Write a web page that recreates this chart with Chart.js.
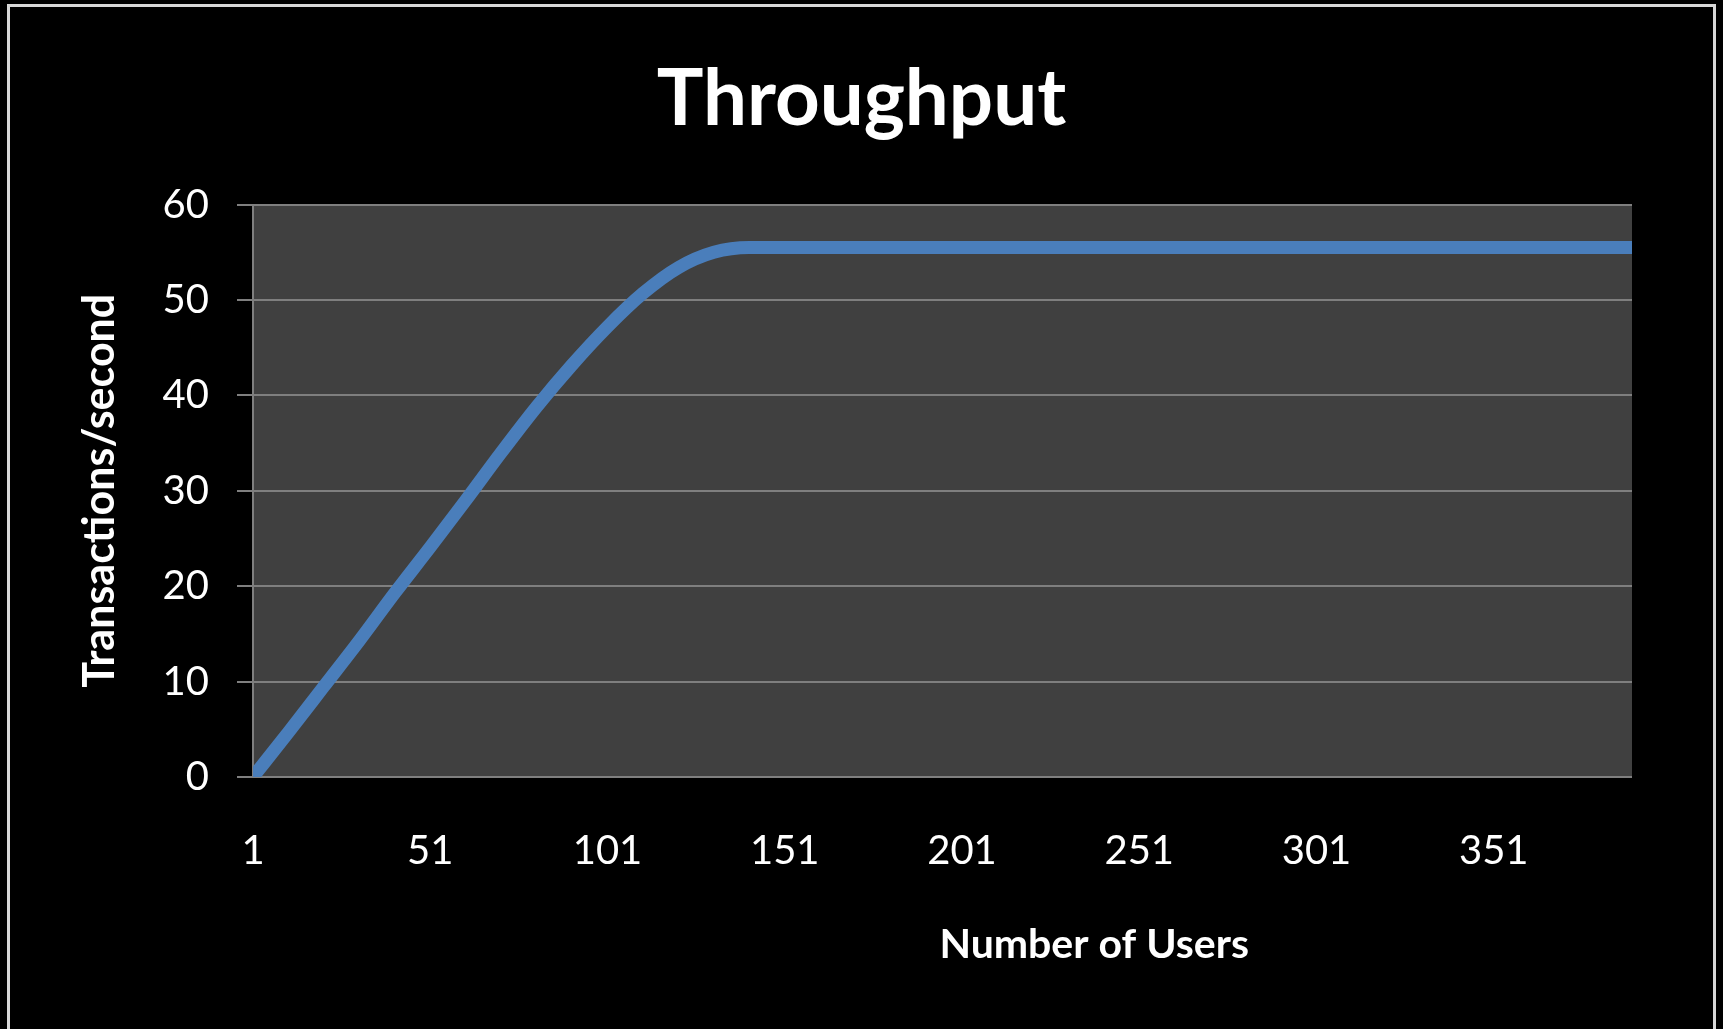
<!DOCTYPE html>
<html>
<head>
<meta charset="utf-8">
<script src="https://cdn.jsdelivr.net/npm/chart.js@4.4.1/dist/chart.umd.min.js"></script>
<style>
  html, body { margin: 0; padding: 0; background: #000; overflow: hidden; width: 1723px; height: 1029px; }
  #frame { position: absolute; left: 7px; top: 4px; width: 1703px; height: 1100px; border: 3px solid #d8d8d8; pointer-events: none; z-index: 2; }
  canvas { position: absolute; left: 0; top: 0; }
</style>
</head>
<body>
<div id="frame"></div>
<canvas id="c" width="1723" height="1029"></canvas>
<script>
// ---- data ----
const chartTitle = "Throughput";
const xAxisTitle = "Number of Users";
const yAxisTitle = "Transactions/second";
const users = [1, 11, 21, 31, 41, 51, 61, 71, 81, 91, 101, 111, 121, 131, 141, 151, 201, 251, 301, 351, 390];
const tps   = [0, 4.7, 9.5, 14.3, 19.3, 24.1, 29.0, 34.0, 38.8, 43.2, 47.2, 50.7, 53.4, 55.0, 55.5, 55.5, 55.5, 55.5, 55.5, 55.5, 55.5];
const xTickValues = [1, 51, 101, 151, 201, 251, 301, 351];
const yTickValues = [0, 10, 20, 30, 40, 50, 60];

const FONT = "Lato, 'Open Sans', 'DejaVu Sans', sans-serif";

const plotBg = {
  id: 'plotBg',
  beforeDraw(chart) {
    const {ctx, chartArea: a} = chart;
    ctx.save();
    ctx.fillStyle = '#404040';
    ctx.fillRect(a.left, a.top, a.right - a.left, a.bottom - a.top);
    ctx.restore();
  }
};

const xTitlePlugin = {
  id: 'xTitle',
  afterDraw(chart) {
    const {ctx, chartArea: a} = chart;
    ctx.save();
    ctx.font = "bold 41px " + FONT;
    ctx.fillStyle = '#ffffff';
    ctx.textAlign = 'center';
    ctx.textBaseline = 'middle';
    ctx.fillText(xAxisTitle, a.left + (a.right - a.left) * 0.61, a.bottom + 168);
    ctx.restore();
  }
};

new Chart(document.getElementById('c'), {
  type: 'line',
  data: {
    datasets: [{
      label: 'Throughput',
      data: users.map((u, i) => ({x: u, y: tps[i]})),
      borderColor: '#4a7ebb',
      borderWidth: 13,
      borderCapStyle: 'round',
      borderJoinStyle: 'round',
      pointRadius: 0,
      cubicInterpolationMode: 'monotone',
      fill: false
    }]
  },
  options: {
    responsive: false,
    animation: false,
    devicePixelRatio: 1,
    layout: { padding: 0 },
    plugins: {
      legend: { display: false },
      tooltip: { enabled: false },
      title: {
        display: true,
        text: chartTitle,
        color: '#ffffff',
        font: { family: FONT, size: 78, weight: 'bold', lineHeight: 1.2 },
        padding: { top: 53, bottom: 58 }
      }
    },
    scales: {
      x: {
        type: 'linear',
        min: 1,
        max: 390,
        afterBuildTicks(scale) { scale.ticks = xTickValues.map(v => ({value: v})); },
        afterFit(scale) { scale.height = 252; },
        grid: { display: false, drawTicks: false },
        border: { display: false },
        ticks: {
          color: '#ffffff',
          font: { family: FONT, size: 40 },
          padding: 50,
          maxRotation: 0,
          autoSkip: false
        }
      },
      y: {
        min: 0,
        max: 60,
        afterBuildTicks(scale) { scale.ticks = yTickValues.map(v => ({value: v})); },
        afterFit(scale) { scale.width = 253; },
        grid: { color: '#7f7f7f', lineWidth: 2, drawTicks: true, tickLength: 16, tickColor: '#7f7f7f' },
        border: { display: true, color: '#7f7f7f', width: 2 },
        ticks: {
          color: '#ffffff',
          font: { family: FONT, size: 40 },
          padding: 28
        },
        title: {
          display: true,
          text: yAxisTitle,
          color: '#ffffff',
          font: { family: FONT, size: 43, weight: 'bold', lineHeight: 1.2 },
          padding: { top: 74, bottom: 0 }
        }
      },
      yRightSpace: {
        position: 'right',
        min: 0,
        max: 60,
        afterFit(scale) { scale.width = 91; },
        grid: { display: false, drawTicks: false },
        border: { display: false },
        ticks: { display: false }
      }
    }
  },
  plugins: [plotBg, xTitlePlugin]
});
</script>
</body>
</html>
